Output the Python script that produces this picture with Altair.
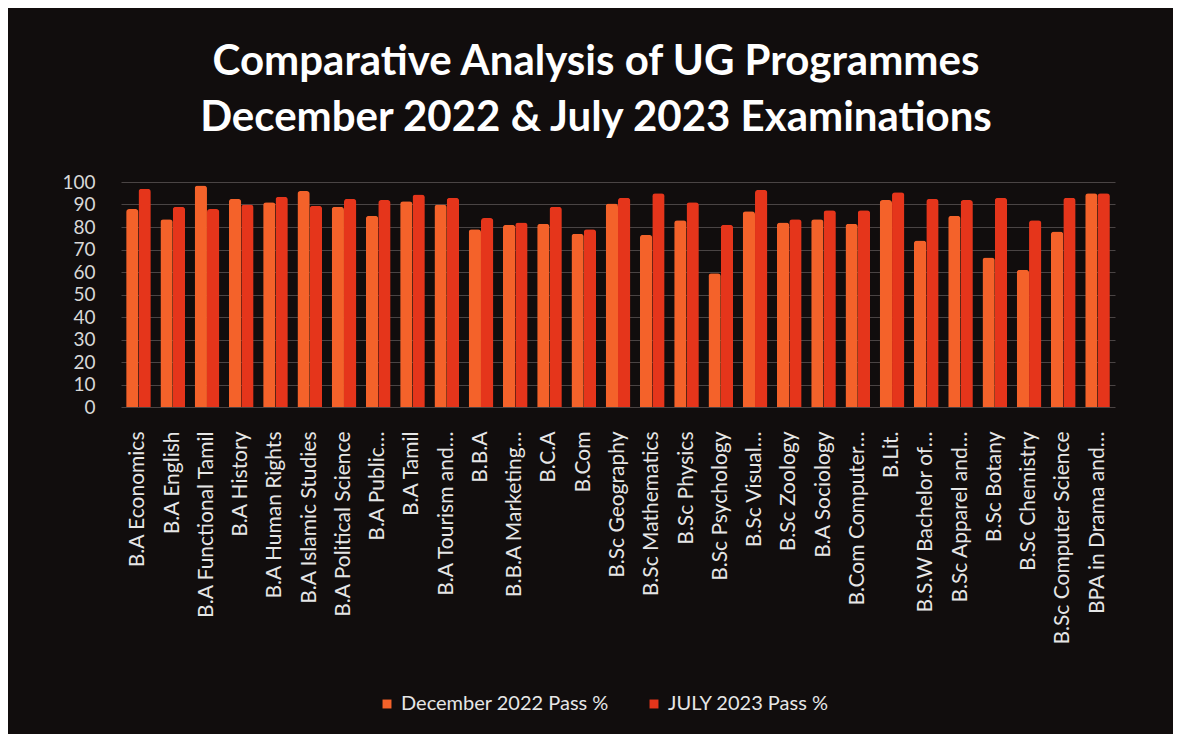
import altair as alt
import pandas as pd

programmes = [
    "B.A Economics", "B.A English", "B.A Functional Tamil", "B.A History",
    "B.A Human Rights", "B.A Islamic Studies", "B.A Political Science",
    "B.A Public…", "B.A Tamil", "B.A Tourism and…", "B.B.A",
    "B.B.A Marketing…", "B.C.A", "B.Com", "B.Sc Geography",
    "B.Sc Mathematics", "B.Sc Physics", "B.Sc Psychology", "B.Sc Visual…",
    "B.Sc Zoology", "B.A Sociology", "B.Com Computer…", "B.Lit.",
    "B.S.W Bachelor of…", "B.Sc Apparel and…", "B.Sc Botany",
    "B.Sc Chemistry", "B.Sc Computer Science", "BPA in Drama and…",
]

dec_2022 = [88, 83.5, 98.5, 92.5, 91, 96, 89, 85, 91.5, 90, 79, 81, 81.5, 77,
            90.5, 76.5, 83, 59.5, 87, 82, 83.5, 81.5, 92, 74, 85, 66.5, 61, 78, 95]
jul_2023 = [97, 89, 88, 90, 93.5, 89.5, 92.5, 92, 94.5, 93, 84, 82, 89, 79,
            93, 95, 91, 81, 96.5, 83.5, 87.5, 87.5, 95.5, 92.5, 92, 93, 83, 93, 95]

series_names = ["December 2022 Pass %", "JULY 2023 Pass %"]
series_colors = ["#F4622A", "#E5351B"]

rows = []
for p, d, j in zip(programmes, dec_2022, jul_2023):
    rows.append({"programme": p, "series": series_names[0], "pass": d})
    rows.append({"programme": p, "series": series_names[1], "pass": j})
df = pd.DataFrame(rows)

FONT = "Lato"

chart = (
    alt.Chart(df)
    .mark_bar(cornerRadiusTopLeft=3, cornerRadiusTopRight=3)
    .encode(
        x=alt.X(
            "programme:N",
            sort=programmes,
            title=None,
            scale=alt.Scale(paddingInner=0.28, paddingOuter=0.15),
            axis=alt.Axis(
                labelAngle=-90,
                labelFontSize=21,
                labelColor="#e6e6e6",
                labelFont=FONT,
                labelPadding=24,
                ticks=False,
                domain=False,
                labelLimit=300,
            ),
        ),
        xOffset=alt.XOffset("series:N", sort=series_names),
        y=alt.Y(
            "pass:Q",
            title=None,
            scale=alt.Scale(domain=[0, 100], nice=False),
            axis=alt.Axis(
                values=list(range(0, 101, 10)),
                labelFontSize=19,
                labelColor="#d8d8d8",
                labelFont=FONT,
                labelPadding=26,
                ticks=False,
                domain=False,
                grid=True,
                gridColor="#4a4444",
                gridWidth=1,
            ),
        ),
        color=alt.Color(
            "series:N",
            sort=series_names,
            scale=alt.Scale(domain=series_names, range=series_colors),
            legend=alt.Legend(
                title=None,
                orient="none",
                direction="horizontal",
                legendX=256,
                legendY=512,
                symbolType="square",
                symbolSize=80,
                labelFontSize=20,
                labelColor="#e6e6e6",
                labelFont=FONT,
                labelLimit=400,
                columnPadding=35,
                symbolStrokeWidth=0,
            ),
        ),
    )
    .properties(
        width=994,
        height=225,
        background="#110d0d",
        padding={"left": 113, "top": 174, "right": 58, "bottom": 327},
        autosize=alt.AutoSizeParams(type="none"),
        title=alt.TitleParams(
            text=["Comparative Analysis of UG Programmes",
                  "December 2022 & July 2023 Examinations"],
            fontSize=42,
            font=FONT,
            fontWeight="bold",
            color="#ffffff",
            lineHeight=56,
            anchor="middle",
            dx=-22,
            offset=33,
        ),
    )
    .configure_view(stroke=None)
)

chart.save("out.html", embed_options={"renderer": "svg", "actions": False})
